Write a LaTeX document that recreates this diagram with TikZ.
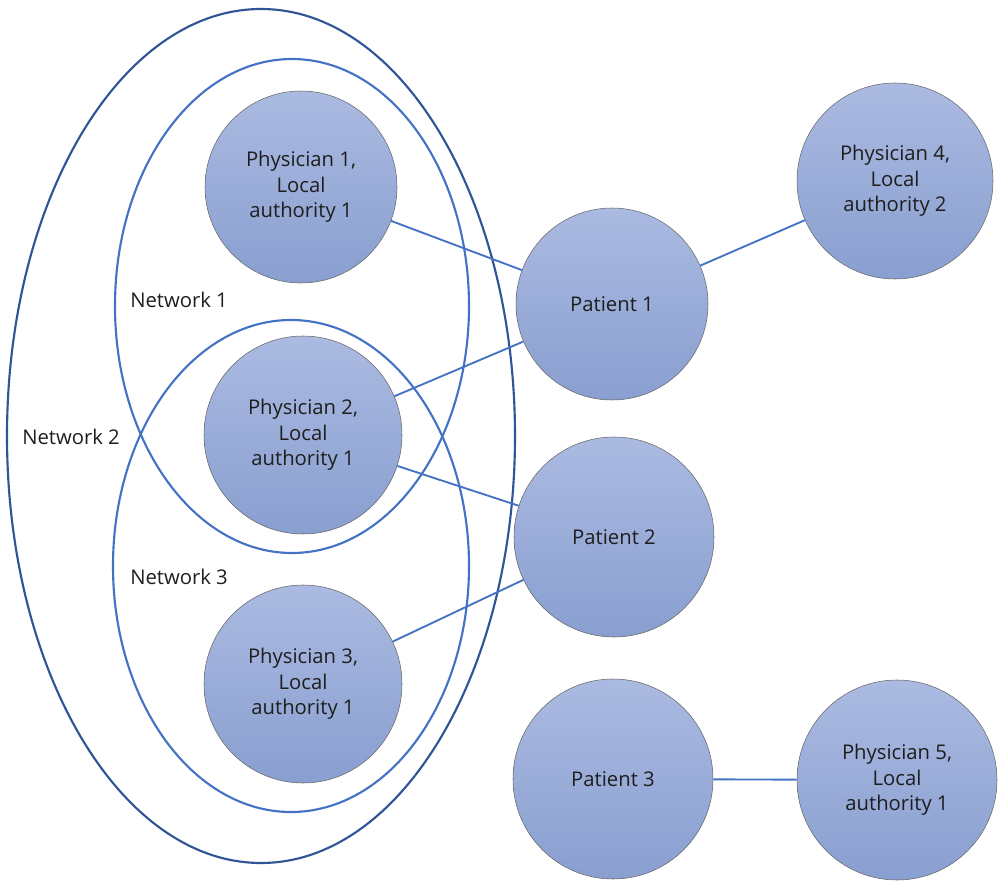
\documentclass[tikz,border=0pt]{standalone}
\usepackage{fontspec}
\setmainfont{Open Sans}
\definecolor{linkblue}{RGB}{68,114,196}
\definecolor{outerblue}{RGB}{47,85,151}
\definecolor{bubtop}{RGB}{171,186,225}
\definecolor{bubbot}{RGB}{137,159,208}
\definecolor{txt}{RGB}{30,30,30}
\begin{document}
\begin{tikzpicture}[x=0.75pt,y=-0.75pt,
  bub/.style={circle, draw=black!60, line width=0.4pt, top color=bubtop, bottom color=bubbot,
    align=center, inner sep=0pt, text=txt, font=\fontsize{15.2}{19}\selectfont},
  link/.style={draw=linkblue, line width=1.4pt},
  net/.style={draw=linkblue, line width=1.6pt},
  outernet/.style={draw=outerblue, line width=1.6pt},
  lab/.style={anchor=west, inner sep=0pt, text=txt, font=\fontsize{15.2}{19}\selectfont}]
\useasboundingbox (0,0) rectangle (1001,881);
% networks
\draw[outernet] (261,436) ellipse [x radius=254, y radius=427];
\draw[net] (292,306) ellipse [x radius=177, y radius=247];
\draw[net] (291,566) ellipse [x radius=178, y radius=246];
\node[lab] (n1) at (130,300) {Network 1};
\node[lab] (n2) at (22,437) {Network 2};
\node[lab] (n3) at (130,577) {Network 3};
% nodes
\node[bub, minimum size=144pt] (ph1) at (301,187) {Physician 1,\\Local\\authority 1};
\node[bub, minimum size=148.5pt] (ph2) at (303,435) {Physician 2,\\Local\\authority 1};
\node[bub, minimum size=148.5pt] (ph3) at (303,684) {Physician 3,\\Local\\authority 1};
\node[bub, minimum size=144pt] (pa1) at (612,304) {Patient 1};
\node[bub, minimum size=150pt] (pa2) at (614,537) {Patient 2};
\node[bub, minimum size=150pt] (pa3) at (613,779) {Patient 3};
\node[bub, minimum size=147pt] (ph4) at (895,181) {Physician 4,\\Local\\authority 2};
\node[bub, minimum size=150pt] (ph5) at (897,780) {Physician 5,\\Local\\authority 1};
% links
\draw[link] (ph1) -- (pa1);
\draw[link] (ph2) -- (pa1);
\draw[link] (ph2) -- (pa2);
\draw[link] (ph3) -- (pa2);
\draw[link] (pa1) -- (ph4);
\draw[link] (pa3) -- (ph5);
\end{tikzpicture}
\end{document}
